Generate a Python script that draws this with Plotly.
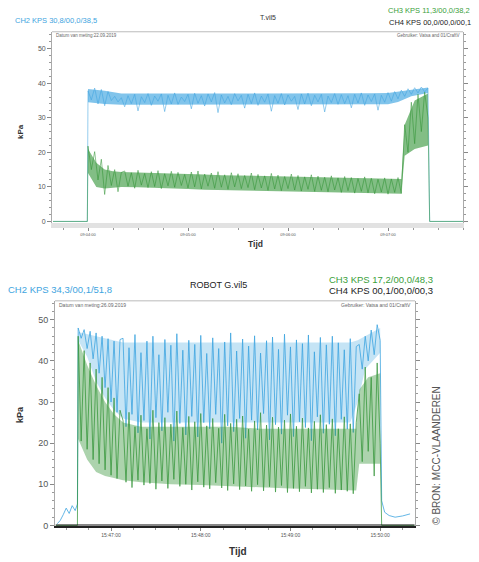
import plotly.graph_objects as go

W, H = 479, 562


def px(x):
    return x / W


def py(y):
    return 1 - y / H


STEP = 2.0  # seconds between read samples

# ---------------- top chart: "T.vil5" ----------------
top_title = "T.vil5"
top_ticktext = ["09:04:00", "09:05:00", "09:06:00", "09:07:00"]
top_tickvals = [0, 60, 120, 180]
top_ch2 = [37.8, 35.2, 38.6, 34.0, 38.2, 33.5, 37.6, 35.0, 36.2, 34.6,
           35.8, 33.2, 36.4, 34.1, 36.8, 32.0, 36.1, 34.4, 37.0, 33.6,
           36.3, 34.8, 36.9, 31.8, 36.5, 34.0, 37.2, 33.9, 36.0, 34.7,
           36.8, 32.6, 37.1, 34.2, 36.4, 33.4, 36.9, 34.6, 37.3, 31.5,
           36.6, 34.3, 36.2, 33.8, 37.0, 34.9, 36.5, 32.8, 36.8, 34.1,
           37.2, 33.6, 36.3, 34.5, 36.9, 31.9, 36.4, 34.2, 37.0, 33.7,
           36.6, 34.8, 36.2, 32.4, 36.9, 34.0, 37.1, 33.5, 36.5, 34.6,
           36.8, 31.7, 36.3, 34.4, 37.0, 33.9, 36.7, 34.1, 36.4, 32.9,
           36.8, 34.3, 37.2, 33.6, 36.6, 34.7, 36.9, 32.2, 36.5, 34.5,
           37.3, 34.8, 37.6, 35.5, 38.0, 36.2, 38.4, 36.8, 38.7, 37.2,
           38.9, 37.5, 38.6]
top_ch3 = [21.8, 15.0, 20.2, 12.0, 18.0, 7.8, 16.2, 10.4, 15.0, 8.6, 14.2,
           14.6, 10.2, 14.1, 9.6, 14.8, 10.5, 13.9, 9.8, 14.4, 10.1,
           14.7, 9.5, 13.8, 10.3, 14.5, 9.9, 14.2, 10.4, 13.6, 9.7,
           14.3, 10.0, 14.6, 9.4, 13.7, 10.2, 14.0, 9.6, 14.4, 9.9,
           13.5, 9.3, 14.1, 10.0, 13.8, 9.5, 13.3, 9.8, 14.0, 9.2,
           13.6, 9.7, 13.2, 9.0, 13.9, 9.4, 13.4, 8.9, 13.0, 9.5,
           13.7, 9.1, 13.3, 8.8, 12.9, 9.3, 13.5, 8.7, 13.1, 9.0,
           12.8, 8.6, 13.2, 9.1, 12.6, 8.4, 13.0, 8.9, 12.7, 8.2,
           12.4, 8.7, 12.9, 8.3, 12.5, 8.0, 12.2, 8.5, 12.6, 7.9,
           12.3, 8.4, 12.7, 8.1,
           28.0, 20.0, 34.5, 22.5, 36.8, 26.0, 37.4, 30.0]
top_start = 0.0
top_lead_t = [-21.0, -0.4]
top_lead_v = [0.0, 0.0]
top_tail_t = [205.0, 225.0]
top_tail_v = [0.0, 0.0]
# dense-noise envelopes (time, upper, lower)
top_ch2_env_t = [0, 10, 20, 30, 40, 50, 60, 70, 80, 90, 100, 110, 120,
                 130, 140, 150, 160, 170, 180, 186, 194, 204]
top_ch2_env_hi = [38.3, 37.8, 37.0, 37.0, 37.1, 37.0, 36.9, 37.0, 37.0,
                  36.9, 37.0, 36.9, 37.0, 37.0, 36.9, 37.0, 37.0, 37.1,
                  37.2, 37.6, 38.3, 38.8]
top_ch2_env_lo = [34.5, 34.0, 33.8, 33.8, 33.9, 33.8, 33.7, 33.8, 33.8,
                  33.7, 33.8, 33.8, 33.9, 33.8, 33.8, 33.9, 33.8, 33.9,
                  33.9, 34.6, 36.2, 37.2]
top_ch3_env_t = [0, 5, 10, 15, 20, 30, 40, 50, 60, 70, 80, 90, 100, 110,
                 120, 130, 140, 150, 160, 170, 180, 188, 190, 196, 204]
top_ch3_env_hi = [21.0, 17.0, 15.0, 14.5, 14.3, 14.2, 14.0, 14.0, 13.8,
                  13.6, 13.4, 13.3, 13.2, 13.0, 12.9, 12.8, 12.7, 12.6,
                  12.5, 12.4, 12.3, 12.3, 28.0, 35.0, 37.0]
top_ch3_env_lo = [14.0, 10.0, 9.5, 9.8, 10.0, 9.9, 9.8, 9.6, 9.4, 9.2,
                  9.1, 9.0, 8.9, 8.8, 8.6, 8.5, 8.4, 8.3, 8.2, 8.1, 8.0,
                  8.0, 19.0, 21.0, 22.0]

# ---------------- bottom chart: "ROBOT G.vil5" ----------------
bot_title = "ROBOT G.vil5"
bot_ticktext = ["15:47:00", "15:48:00", "15:49:00", "15:50:00"]
bot_tickvals = [0, 60, 120, 180]
bot_ch2 = [48.0, 45.5, 47.6, 43.0, 47.2, 40.5, 46.8, 37.0, 46.0, 33.5,
           45.4, 30.0, 44.8, 27.5, 45.2,
           45.5, 24.0, 43.2, 27.0, 46.4, 22.5, 42.0, 25.5, 44.8, 21.0,
           46.0, 26.2, 41.5, 23.0, 45.2, 27.5, 43.8, 20.5, 46.6, 24.8,
           42.6, 22.0, 45.0, 26.5, 44.0, 21.5, 46.2, 25.0, 41.8, 23.5,
           45.6, 27.0, 43.0, 20.0, 44.6, 24.2, 46.8, 22.8, 42.4, 26.0,
           45.3, 21.2, 43.6, 25.6, 46.1, 23.2, 41.9, 27.2, 44.9, 20.8,
           45.8, 24.5, 42.8, 22.2, 46.5, 26.8, 43.4, 21.6, 45.1, 25.2,
           44.2, 23.8, 46.3, 20.6, 42.2, 26.4, 45.7, 22.4, 43.9, 24.6,
           46.0, 21.8, 44.4, 25.8, 42.7, 23.4, 45.4, 22.6, 43.5,
           44.0, 38.0, 46.0, 40.0, 47.5, 41.5, 48.8, 45.0]
bot_ch3 = [46.0, 20.5, 42.5, 18.5, 39.5, 16.0, 38.0, 15.0, 36.0, 13.5,
           33.5, 12.2, 31.0, 11.4, 28.0,
           25.5, 10.5, 27.5, 9.2, 24.0, 11.0, 26.8, 9.8, 23.5, 10.2,
           28.0, 8.8, 25.0, 10.8, 26.2, 9.0, 24.6, 11.2, 27.8, 9.5,
           23.8, 10.0, 26.5, 8.6, 25.2, 10.6, 27.2, 9.3, 24.2, 8.9,
           26.0, 10.4, 23.6, 9.1, 27.0, 8.5, 24.8, 10.1, 25.8, 8.7,
           26.6, 9.6, 23.4, 8.3, 25.4, 9.9, 27.4, 8.4, 24.4, 9.4,
           26.3, 8.1, 23.9, 9.7, 25.6, 8.0, 27.1, 9.0, 24.1, 8.2,
           26.1, 9.5, 23.7, 7.9, 25.3, 8.8, 26.9, 8.0, 24.5, 9.2,
           25.9, 7.8, 23.5, 8.6, 26.4, 8.3, 24.7, 7.7, 25.1,
           32.0, 15.5, 38.5, 18.0, 36.0, 12.0, 39.5, 20.0]
bot_start = -22.0
bot_pre_t = [-36.0, -34.0, -32.0, -30.0, -28.0, -26.0, -24.0, -22.5]
bot_pre_ch2 = [0.4, 1.2, 2.6, 4.2, 2.9, 4.8, 3.6, 5.2]
bot_post_t = [181.0, 183.0, 186.0, 190.0, 195.0, 200.0]
bot_post_ch2 = [6.0, 3.2, 2.4, 2.0, 2.3, 2.8]
bot_ch3_pre_t = [-37.0, -22.5]
bot_ch3_pre_v = [0.0, 0.0]
bot_ch3_post_t = [181.0, 203.0]
bot_ch3_post_v = [0.0, 0.0]
bot_ch4_t = [-37.0, 203.0]
bot_ch4_v = [0.1, 0.1]
bot_ch2_env_t = [-22, -16, -10, -4, 2, 8, 20, 40, 60, 80, 100, 120, 140,
                 160, 165, 170, 175, 180]
bot_ch2_env_hi = [47.0, 46.5, 46.0, 45.5, 45.0, 44.5, 44.5, 44.5, 44.5,
                  44.5, 44.5, 44.5, 44.5, 44.5, 45.0, 46.0, 47.0, 48.0]
bot_ch2_env_lo = [45.0, 41.0, 35.0, 31.0, 28.0, 26.0, 25.0, 25.0, 25.0,
                  25.0, 25.0, 25.0, 25.0, 25.0, 30.0, 38.0, 40.0, 42.0]
bot_ch3_env_t = [-22, -16, -10, -4, 2, 8, 20, 40, 60, 80, 100, 120, 140,
                 160, 164, 166, 172, 180]
bot_ch3_env_hi = [45.0, 39.0, 34.0, 30.0, 27.0, 25.0, 24.0, 24.0, 24.0,
                  24.0, 23.5, 23.5, 23.5, 23.5, 23.5, 33.0, 36.0, 37.0]
bot_ch3_env_lo = [21.0, 16.0, 13.0, 12.0, 11.5, 11.0, 10.5, 10.0, 9.8,
                  9.5, 9.2, 9.0, 8.8, 8.6, 8.5, 15.0, 15.0, 15.0]

BLUE = "#3ea4e0"
GREEN = "#2f9233"


def times(start, vals):
    return [start + STEP * i for i in range(len(vals))]


fig = go.Figure()


def band(t, hi, lo, color, xa, ya):
    fig.add_trace(go.Scatter(x=t, y=hi, mode="lines", line=dict(width=0),
                             hoverinfo="skip", showlegend=False,
                             xaxis=xa, yaxis=ya))
    fig.add_trace(go.Scatter(x=t, y=lo, mode="lines", line=dict(width=0),
                             fill="tonexty", fillcolor=color,
                             hoverinfo="skip", showlegend=False,
                             xaxis=xa, yaxis=ya))


# top traces
band(top_ch2_env_t, top_ch2_env_hi, top_ch2_env_lo,
     "rgba(62,164,224,0.65)", "x", "y")
band(top_ch3_env_t, top_ch3_env_hi, top_ch3_env_lo,
     "rgba(47,146,51,0.6)", "x", "y")
fig.add_trace(go.Scatter(
    x=top_lead_t + times(top_start, top_ch2) + top_tail_t,
    y=top_lead_v + top_ch2 + top_tail_v,
    mode="lines", line=dict(color=BLUE, width=0.55),
    xaxis="x", yaxis="y", showlegend=False))
fig.add_trace(go.Scatter(
    x=top_lead_t + times(top_start, top_ch3) + top_tail_t,
    y=top_lead_v + top_ch3 + top_tail_v,
    mode="lines", line=dict(color=GREEN, width=0.55),
    xaxis="x", yaxis="y", showlegend=False))

# bottom traces
band(bot_ch2_env_t, bot_ch2_env_hi, bot_ch2_env_lo,
     "rgba(62,164,224,0.30)", "x2", "y2")
fig.add_trace(go.Scatter(
    x=bot_pre_t + times(bot_start, bot_ch2) + bot_post_t,
    y=bot_pre_ch2 + bot_ch2 + bot_post_ch2,
    mode="lines", line=dict(color=BLUE, width=0.8),
    xaxis="x2", yaxis="y2", showlegend=False))
band(bot_ch3_env_t, bot_ch3_env_hi, bot_ch3_env_lo,
     "rgba(47,146,51,0.40)", "x2", "y2")
fig.add_trace(go.Scatter(
    x=bot_ch3_pre_t + times(bot_start, bot_ch3) + bot_ch3_post_t,
    y=bot_ch3_pre_v + bot_ch3 + bot_ch3_post_v,
    mode="lines", line=dict(color=GREEN, width=0.8), opacity=0.9,
    xaxis="x2", yaxis="y2", showlegend=False))
fig.add_trace(go.Scatter(
    x=bot_ch4_t, y=bot_ch4_v,
    mode="lines", line=dict(color="#111111", width=1.2),
    xaxis="x2", yaxis="y2", showlegend=False))

FONT = "Liberation Sans, Arial, sans-serif"
tick_common = dict(showgrid=False, zeroline=False, ticks="outside",
                   tickcolor="#888888", tickwidth=0.7)

fig.update_layout(
    width=W, height=H,
    margin=dict(l=0, r=0, t=0, b=0),
    paper_bgcolor="white", plot_bgcolor="white",
    font=dict(family=FONT, color="#444444"),
    xaxis=dict(domain=[px(52), px(463)], range=[-21.6, 225],
               tickvals=top_tickvals, ticktext=top_ticktext,
               tickfont=dict(size=4, color="#555555"), ticklen=3,
               showline=True, linecolor="#e2e2e2", linewidth=5,
               minor=dict(dtick=15, ticks="outside", ticklen=2,
                          tickcolor="#999999"),
               anchor="y", **tick_common),
    yaxis=dict(domain=[py(225), py(32)], range=[-0.57, 54.9],
               tickvals=[0, 10, 20, 30, 40, 50],
               tickfont=dict(size=7, color="#555555"), ticklen=4,
               showline=True, linecolor="#aaaaaa", linewidth=0.8,
               mirror="ticks",
               minor=dict(dtick=2, ticks="outside", ticklen=2,
                          tickcolor="#999999"),
               anchor="x", **tick_common),
    xaxis2=dict(domain=[px(55), px(415)], range=[-37.5, 203.3],
                tickvals=bot_tickvals, ticktext=bot_ticktext,
                tickfont=dict(size=5, color="#555555"), ticklen=3,
                showline=True, linecolor="#222222", linewidth=1.5,
                minor=dict(dtick=15, ticks="outside", ticklen=2,
                           tickcolor="#999999"),
                anchor="y2", **tick_common),
    yaxis2=dict(domain=[py(530), py(303)], range=[-0.2, 54.6],
                tickvals=[0, 10, 20, 30, 40, 50],
                tickfont=dict(size=9, color="#555555"), ticklen=4,
                showline=True, linecolor="#aaaaaa", linewidth=0.8,
                mirror="ticks",
                minor=dict(dtick=2, ticks="outside", ticklen=2,
                           tickcolor="#999999"),
                anchor="x2", **tick_common),
)

# frame top lines
fig.add_shape(type="line", xref="paper", yref="paper",
              x0=px(52), x1=px(463), y0=py(32), y1=py(32),
              line=dict(color="#aaaaaa", width=0.8))
fig.add_shape(type="line", xref="paper", yref="paper",
              x0=px(55), x1=px(415), y0=py(303), y1=py(303),
              line=dict(color="#aaaaaa", width=0.8))


def ann(x, y, text, size, color="#333333", xanchor="left", bold=False,
        angle=0):
    fig.add_annotation(x=px(x), y=py(y), xref="paper", yref="paper",
                       text=("<b>%s</b>" % text) if bold else text,
                       showarrow=False, xanchor=xanchor, yanchor="middle",
                       textangle=angle,
                       font=dict(family=FONT, size=size, color=color))


# top chart texts
ann(13, 21, "CH2 KPS 30,8/00,0/38,5", 7.5, BLUE)
ann(268, 18, top_title, 7, "#333333", "center")
ann(386, 11, "CH3 KPS 11,3/00,0/38,2", 7.5, "#3aa03a")
ann(387, 23, "CH4 KPS 00,0/00,0/00,1", 7.5, "#222222")
ann(54, 36, "Datum van meting:22.09.2019", 4.5, "#666666")
ann(461, 36, "Gebruiker: Vatsa and 01/CraftV", 4.5, "#666666", "right")
ann(20, 133, "kPa", 8, "#333333", "center", True, -90)
ann(256, 246, "Tijd", 8.5, "#333333", "center", True)

# bottom chart texts
ann(6, 292, "CH2 KPS 34,3/00,1/51,8", 9.5, BLUE)
ann(218, 287, bot_title, 9, "#222222", "center")
ann(327, 281, "CH3 KPS 17,2/00,0/48,3", 9.5, "#3aa03a")
ann(327, 293, "CH4 KPS 00,1/00,0/00,3", 9.5, "#222222")
ann(57, 307, "Datum van meting:26.09.2019", 5, "#666666")
ann(413, 307, "Gebruiker: Vatsa and 01/CraftV", 5, "#666666", "right")
ann(20, 418, "kPa", 9, "#333333", "center", True, -90)
ann(238, 555, "Tijd", 10, "#333333", "center", True)

# credit
ann(437, 459, "© BRON: MCC-VLAANDEREN", 10, "#555555", "center", False, -90)

fig.write_html(
    "out.html",
    config={"displayModeBar": False},
    post_script="document.body.style.margin='0';"
                "document.body.style.padding='0';"
                "document.body.style.overflow='hidden';")
